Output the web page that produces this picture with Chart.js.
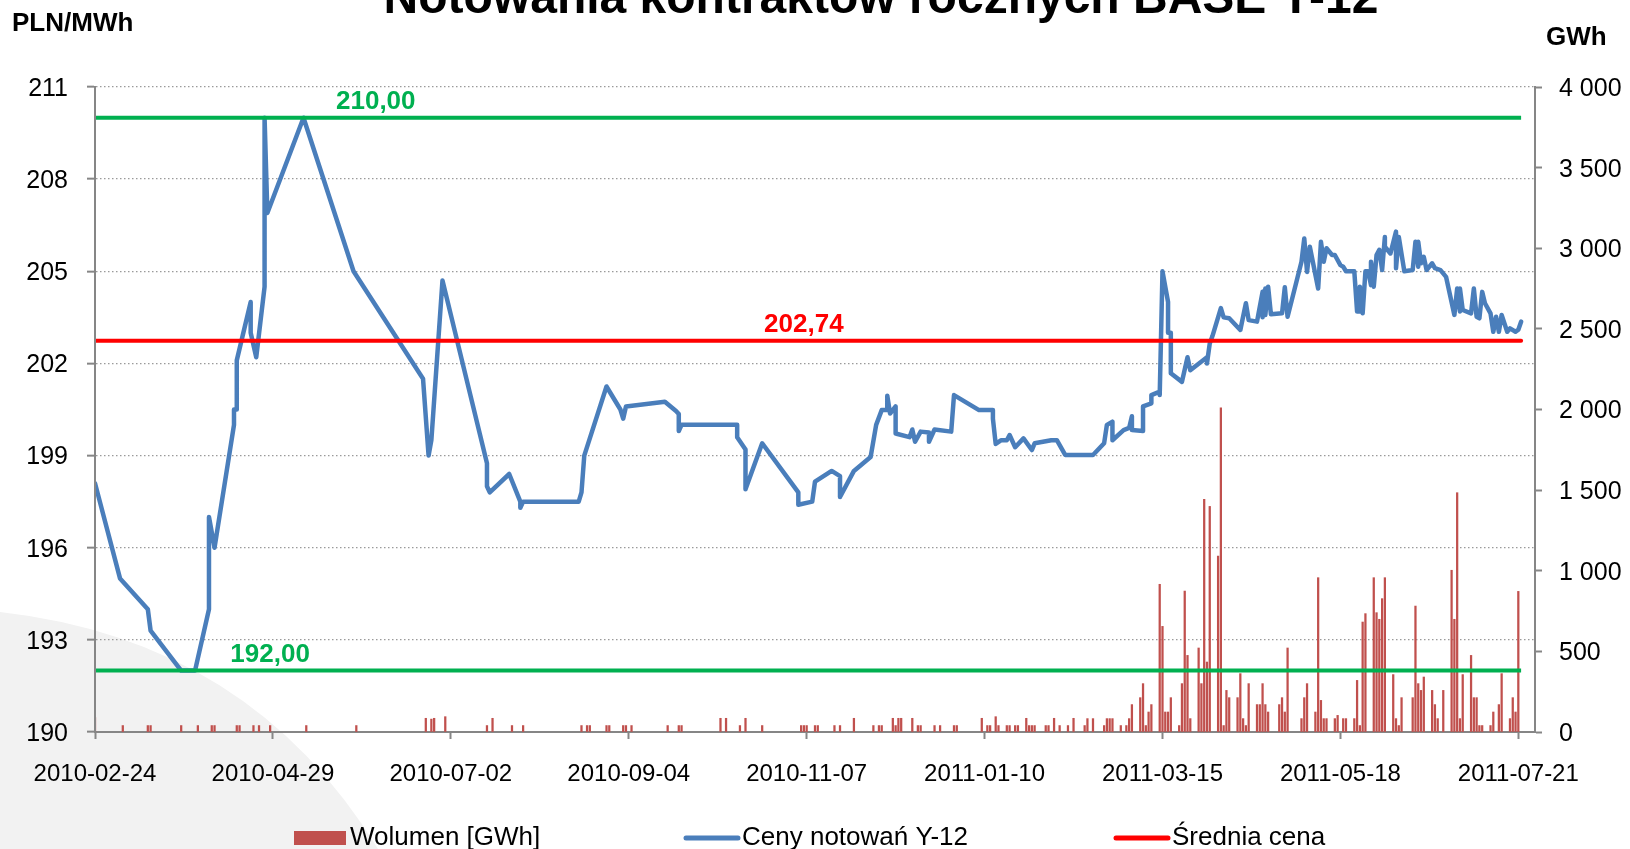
<!DOCTYPE html>
<html>
<head>
<meta charset="utf-8">
<script src="https://cdn.jsdelivr.net/npm/chart.js@4.4.1/dist/chart.umd.min.js"></script>
<style>
html,body{margin:0;padding:0;background:#ffffff;}
#wrap{width:1630px;height:849px;position:relative;}
</style>
</head>
<body>
<div id="wrap"><canvas id="c"></canvas></div>
<script>
// ---------- data ----------
const START_DATE = '2010-02-24';
const X_MAX_DATE = '2011-07-27';
const LEVEL_END_DATE = '2011-07-22';
const TITLE = 'Notowania kontraktów rocznych BASE Y-12';
const LEFT_UNIT = 'PLN/MWh';
const RIGHT_UNIT = 'GWh';
const xTickDates = ['2010-02-24','2010-04-29','2010-07-02','2010-09-04','2010-11-07','2011-01-10','2011-03-15','2011-05-18','2011-07-21'];
const priceTicks = [190,193,196,199,202,205,208,211];
const volumeTicks = [0,500,1000,1500,2000,2500,3000,3500,4000];

const AVG_PRICE = 202.74;
const MAX_PRICE = 210.00;
const MIN_PRICE = 192.00;
const levelLabels = ['210,00','192,00','202,74'];
const levelLabelDays = [101, 63, 255];

// price series: days counted from START_DATE
const priceDay = [0,9,19,20,31,36,41,41,43,50,50,51,51,56,56,58,61,61,62,75,93,118,120,121,124,125,141,141,142,149,153,153,154,174,175,176,184,189,190,191,205,209,210,210,211,231,231,234,234,240,253,253,258,259,265,268,268,273,279,281,283,285,285,286,288,288,293,294,295,297,300,300,302,308,309,318,323,323,324,326,328,329,331,334,337,338,344,346,349,359,363,364,366,366,370,372,373,373,377,377,380,380,383,383,384,386,386,387,387,391,393,394,400,400,401,402,405,406,408,412,414,415,418,420,420,421,421,422,423,427,428,429,434,435,436,437,440,441,442,443,445,446,448,449,450,453,454,455,455,456,457,458,459,459,460,461,462,463,464,464,466,468,468,469,471,474,475,476,476,477,478,479,481,482,484,486,489,490,491,491,492,495,496,497,498,499,500,502,503,504,505,506,508,509,511,512,513];
const priceValue = [198.1,195.0,194.0,193.3,192.0,192.0,194.0,197.0,196.0,200.0,200.5,200.5,202.1,204.0,203.0,202.2,204.5,210.0,206.9,210.0,205.0,201.5,199.0,199.5,203.4,204.7,198.75,198.0,197.8,198.4,197.5,197.3,197.5,197.5,197.8,199.0,201.25,200.5,200.2,200.6,200.75,200.45,200.35,199.8,200.0,200.0,199.6,199.2,197.9,199.4,197.8,197.4,197.5,198.15,198.5,198.33,197.65,198.5,198.95,200.0,200.48,200.48,200.95,200.37,200.6,199.72,199.6,199.85,199.45,199.78,199.75,199.45,199.85,199.78,200.97,200.48,200.48,200.2,199.38,199.5,199.5,199.67,199.27,199.56,199.18,199.4,199.5,199.5,199.02,199.02,199.4,200.0,200.1,199.5,199.83,199.9,200.28,199.83,199.8,200.6,200.7,200.97,201.08,200.97,205.0,204.0,203.0,203.0,201.68,201.4,202.2,201.78,202.2,202.0,202.65,202.9,203.8,203.5,203.47,203.09,203.96,203.41,203.36,204.33,203.5,204.44,203.58,204.5,203.6,203.63,204.48,203.52,205.31,206.07,204.98,205.8,204.44,205.96,205.31,205.75,205.53,205.53,205.2,205.15,205.0,205.0,203.69,203.69,204.5,203.63,205.0,205.0,204.55,205.31,204.5,205.53,205.7,205.04,206.12,205.8,205.58,206.29,205.1,206.12,205.0,205.04,205.96,205.15,205.96,205.26,205.47,205.04,205.26,205.1,205.04,204.82,203.58,204.44,203.69,204.44,203.74,203.63,204.44,203.52,203.47,204.33,203.96,203.63,203.03,203.52,203.03,203.58,203.03,203.14,203.03,203.1,203.36];

// volume series: days counted from START_DATE
const volumeDay = [0,10,19,20,31,37,42,43,51,52,57,59,63,76,94,119,121,122,126,141,143,150,154,175,177,178,184,185,190,191,193,206,210,211,225,227,232,234,240,254,255,256,259,260,266,268,273,280,282,283,287,288,289,290,294,296,297,302,304,309,310,319,321,322,324,325,328,329,331,332,335,336,337,338,342,343,345,347,350,352,356,357,359,363,364,365,366,369,371,372,373,376,377,378,379,380,383,384,385,386,387,390,391,392,393,394,397,398,399,400,401,404,405,406,407,408,411,412,413,414,415,418,419,420,421,422,426,427,428,429,434,435,436,439,440,441,442,443,446,447,449,450,453,454,455,456,457,460,461,462,463,464,467,468,469,470,474,475,476,477,478,481,482,483,485,488,489,490,491,492,495,496,497,498,499,502,503,505,506,509,510,511,512];
const volumeValue = [90,40,40,40,40,40,40,40,40,40,40,40,40,40,40,85,80,85,95,40,85,40,40,40,40,40,40,40,40,40,40,40,40,40,85,85,40,85,40,40,40,40,40,40,40,40,85,40,40,40,85,40,85,85,85,40,40,40,40,40,40,85,40,40,95,40,40,40,40,40,85,40,40,40,40,40,85,40,40,85,40,83,83,40,83,83,83,40,40,83,170,213,300,40,124,170,916,655,124,124,213,40,300,874,475,83,521,300,1443,434,1399,1091,2011,40,258,213,213,362,83,40,300,170,170,300,170,124,170,213,124,521,83,213,300,124,957,196,83,83,83,103,83,83,83,320,40,682,734,957,740,699,827,957,356,83,40,213,213,781,300,258,341,258,170,83,258,1003,699,1484,83,356,475,213,213,40,40,40,124,170,362,83,213,124,872];

// ---------- helpers ----------
const DAY_MS = 86400000;
const START_MS = Date.parse(START_DATE + 'T00:00:00Z');
function dayOf(s){ return Math.round((Date.parse(s + 'T00:00:00Z') - START_MS) / DAY_MS); }
function dateOf(d){ return new Date(START_MS + Math.round(d) * DAY_MS).toISOString().slice(0,10); }
function fmtThousands(v){ return v >= 1000 ? Math.floor(v/1000) + ' ' + String(v % 1000).padStart(3,'0') : String(v); }

const FONT = "'Liberation Sans', Arial, sans-serif";
const AXIS_COLOR = '#868686';
const COL_VOL = '#C0504D', COL_PRICE = '#4A7EBB', COL_AVG = '#FF0000', COL_LVL = '#00B050';

const levelEnd = dayOf(LEVEL_END_DATE);
const priceData = priceDay.map((d,i) => ({x:d, y:priceValue[i]}));
const volumeData = volumeDay.map((d,i) => ({x:d, y:volumeValue[i]}));

const decor = {
  id: 'decor',
  beforeDraw(chart){
    const ctx = chart.ctx;
    ctx.save();
    ctx.fillStyle = '#f2f2f2';
    ctx.beginPath();
    ctx.moveTo(0, 612);
    ctx.quadraticCurveTo(250, 640, 378, 849);
    ctx.lineTo(0, 849);
    ctx.closePath();
    ctx.fill();
    ctx.restore();
  },
  afterDraw(chart){
    const ctx = chart.ctx;
    const xs = chart.scales.x, ys = chart.scales.y;
    const ca = chart.chartArea;
    ctx.save();
    // solid left axis line (grid dash must not affect it)
    ctx.setLineDash([]);
    ctx.strokeStyle = AXIS_COLOR;
    ctx.lineWidth = 2;
    ctx.beginPath(); ctx.moveTo(ca.left, ca.top); ctx.lineTo(ca.left, ca.bottom); ctx.stroke();
    // title (partly above the canvas, as in the original)
    ctx.fillStyle = '#000';
    ctx.font = 'bold 48px ' + FONT;
    ctx.textAlign = 'center';
    ctx.textBaseline = 'alphabetic';
    ctx.fillText(TITLE, 881, 13);
    // units
    ctx.font = 'bold 26px ' + FONT;
    ctx.textAlign = 'left';
    ctx.textBaseline = 'middle';
    ctx.fillText(LEFT_UNIT, 12, 24);
    ctx.fillText(RIGHT_UNIT, 1546, 38);
    // level labels
    ctx.font = 'bold 26px ' + FONT;
    ctx.textAlign = 'center';
    const lv = [MAX_PRICE, MIN_PRICE, AVG_PRICE];
    const lc = [COL_LVL, COL_LVL, COL_AVG];
    for (let i = 0; i < lv.length; i++){
      ctx.fillStyle = lc[i];
      ctx.fillText(levelLabels[i], xs.getPixelForValue(levelLabelDays[i]), ys.getPixelForValue(lv[i]) - 16);
    }
    // legend
    const ds = chart.data.datasets;
    const ly = 838;
    ctx.font = '26px ' + FONT;
    ctx.textAlign = 'left';
    ctx.fillStyle = COL_VOL;
    ctx.fillRect(294, ly - 7, 52, 14);
    ctx.fillStyle = '#000';
    ctx.fillText(ds[0].label, 350, ly);
    ctx.lineCap = 'round';
    ctx.lineWidth = 5;
    ctx.strokeStyle = COL_PRICE;
    ctx.beginPath(); ctx.moveTo(686, ly); ctx.lineTo(738, ly); ctx.stroke();
    ctx.fillText(ds[1].label, 742, ly);
    ctx.strokeStyle = COL_AVG;
    ctx.beginPath(); ctx.moveTo(1116, ly); ctx.lineTo(1168, ly); ctx.stroke();
    ctx.fillText(ds[2].label, 1172, ly);
    ctx.restore();
  }
};

new Chart(document.getElementById('c'), {
  type: 'bar',
  data: {
    datasets: [
      { type:'bar', label:'Wolumen [GWh]', data: volumeData, yAxisID:'y1', backgroundColor: COL_VOL, barThickness: 1.6, order: 4 },
      { type:'line', label:'Ceny notowań Y-12', data: priceData, yAxisID:'y', borderColor: COL_PRICE, borderWidth: 4.5, pointRadius: 0, tension: 0, borderJoinStyle:'round', borderCapStyle:'round', order: 3 },
      { type:'line', label:'Średnia cena', data: [{x:0,y:AVG_PRICE},{x:levelEnd,y:AVG_PRICE}], yAxisID:'y', borderColor: COL_AVG, borderWidth: 4, pointRadius: 0, borderCapStyle:'round', order: 2 },
      { type:'line', label:'210,00', data: [{x:0,y:MAX_PRICE},{x:levelEnd,y:MAX_PRICE}], yAxisID:'y', borderColor: COL_LVL, borderWidth: 4, pointRadius: 0, order: 1 },
      { type:'line', label:'192,00', data: [{x:0,y:MIN_PRICE},{x:levelEnd,y:MIN_PRICE}], yAxisID:'y', borderColor: COL_LVL, borderWidth: 4, pointRadius: 0, order: 1 }
    ]
  },
  options: {
    responsive: true,
    maintainAspectRatio: false,
    animation: false,
    devicePixelRatio: 1,
    layout: { padding: { top: 87, left: 0, right: 0, bottom: 0 } },
    plugins: { legend: { display:false }, tooltip: { enabled:false }, title: { display:false } },
    scales: {
      x: {
        type: 'linear',
        min: 0,
        max: dayOf(X_MAX_DATE),
        offset: false,
        afterBuildTicks: s => { s.ticks = xTickDates.map(d => ({value: dayOf(d)})); },
        afterFit: s => { s.height = 117; },
        grid: { display:true, drawOnChartArea:false, offset:false, tickLength: 7, tickColor: AXIS_COLOR, tickWidth: 2 },
        border: { display:true, color: AXIS_COLOR, width: 2 },
        ticks: { callback: v => dateOf(v), color:'#000', font:{ family: FONT, size: 24 }, padding: 21, maxRotation: 0, autoSkip: false }
      },
      y: {
        type: 'linear',
        position: 'left',
        min: 190, max: 211,
        afterBuildTicks: s => { s.ticks = priceTicks.map(v => ({value: v})); },
        afterFit: s => { s.width = 95; },
        grid: { drawOnChartArea:true, color: ctx => ctx.tick && ctx.tick.value === 190 ? 'rgba(0,0,0,0)' : '#9a9a9a', lineWidth: 1.3, tickLength: 8, tickColor: AXIS_COLOR, tickWidth: 2, tickBorderDash: [] },
        border: { display:true, color: AXIS_COLOR, width: 2, dash: [1.5, 2.5] },
        ticks: { color:'#000', font:{ family: FONT, size: 25 }, padding: 19, labelOffset: 2 }
      },
      y1: {
        type: 'linear',
        position: 'right',
        min: 0, max: 4000,
        afterBuildTicks: s => { s.ticks = volumeTicks.map(v => ({value: v})); },
        afterFit: s => { s.width = 95; },
        grid: { drawOnChartArea:false, tickLength: 7, tickColor: AXIS_COLOR, tickWidth: 2 },
        border: { display:true, color: AXIS_COLOR, width: 2 },
        ticks: { callback: v => fmtThousands(v), color:'#000', font:{ family: FONT, size: 25 }, padding: 17, labelOffset: 2 }
      }
    }
  },
  plugins: [decor]
});
</script>
</body>
</html>
